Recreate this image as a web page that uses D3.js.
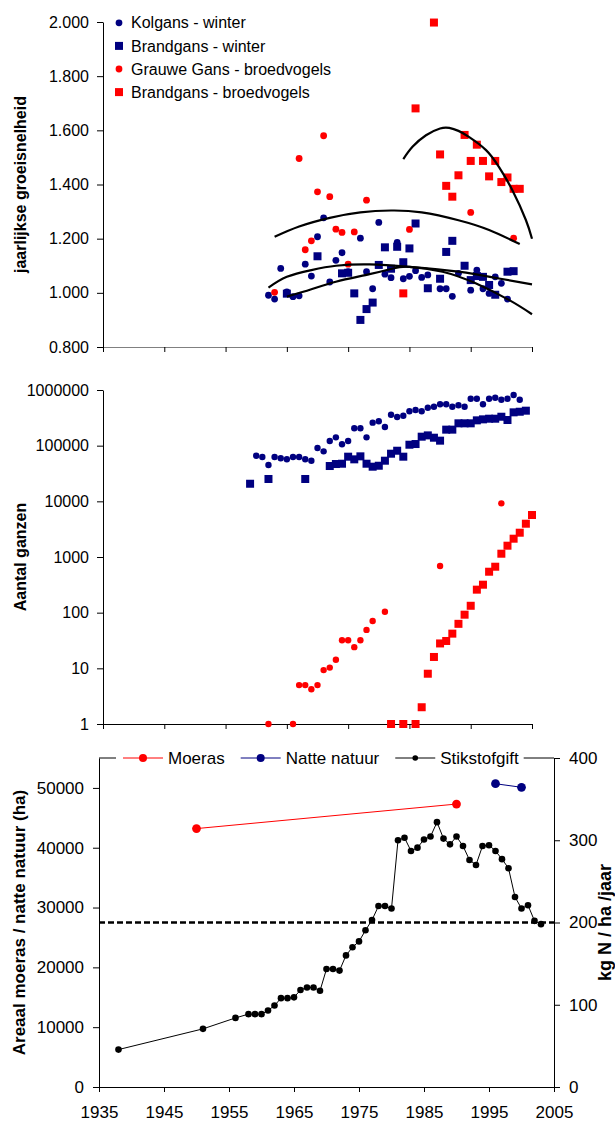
<!DOCTYPE html>
<html lang="nl">
<head>
<meta charset="utf-8">
<title>Ganzen, moeras en stikstofgift</title>
<script src="https://cdn.jsdelivr.net/npm/d3@7/dist/d3.min.js"></script>
<style>
  html, body { margin: 0; padding: 0; background: #fff; }
  svg { display: block; }
  text { font-family: Arial, "Liberation Sans", Helvetica, sans-serif; fill: #000; }
</style>
</head>
<body>
<svg id="chart" width="615" height="1121"></svg>
<script>
// ---------- data: annual growth rate (top panel) ----------
const kolgansGroei = [
  [1962,0.991],[1963,0.977],[1964,1.090],[1965,1.003],[1966,0.986],[1967,0.989],
  [1968,1.106],[1969,1.062],[1970,1.207],[1971,1.277],[1972,1.040],[1973,1.120],
  [1974,1.148],[1975,1.078],[1977,1.202],[1978,1.078],[1979,1.015],[1980,1.260],
  [1981,1.069],[1982,1.056],[1983,1.186],[1984,1.052],[1985,1.061],[1986,1.082],
  [1987,1.057],[1988,1.066],[1990,1.015],[1991,1.015],[1992,0.987],[1993,1.072],
  [1995,1.010],[1996,1.084],[1997,1.015],[1998,0.998],[1999,1.059],[2000,1.035],
  [2001,0.977]
];
const brandgansWinterGroei = [
  [1965,0.997],[1970,1.135],[1974,1.072],[1975,1.074],[1976,0.998],[1977,0.900],
  [1978,0.940],[1979,0.964],[1980,1.103],[1981,1.168],[1982,1.089],[1983,1.170],
  [1984,1.113],[1985,1.164],[1986,1.256],[1988,1.017],[1990,1.052],[1991,1.151],
  [1992,1.192],[1994,1.100],[1995,1.047],[1996,1.062],[1997,1.059],[1998,1.029],
  [1999,0.993],[2001,1.078],[2002,1.080]
];
const grauweGansGroei = [
  [1963,1.002],[1967,1.496],[1968,1.159],[1969,1.192],[1970,1.373],[1971,1.580],
  [1972,1.355],[1973,1.235],[1974,1.223],[1975,1.106],[1976,1.225],[1978,1.342],
  [1985,1.234],[1995,1.297],[2002,1.202]
];
const brandgansBroedGroei = [
  [1984,0.998],[1986,1.681],[1989,1.998],[1990,1.511],[1991,1.395],[1992,1.355],
  [1993,1.434],[1994,1.583],[1995,1.487],[1996,1.547],[1997,1.487],[1998,1.430],
  [1999,1.487],[2000,1.409],[2001,1.426],[2002,1.384],[2003,1.384]
];
// polynomial trend lines, sampled along their course
const kolgansTrend = [
  [1962,1.019],[1965,1.059],[1969,1.084],[1973,1.100],[1978.5,1.105],[1985,1.096],
  [1993,1.078],[1999.6,1.053],[2005,1.031]
];
const brandgansWinterTrend = [
  [1965,0.986],[1969,1.013],[1973,1.041],[1978.5,1.069],[1982.3,1.090],[1985,1.096],
  [1990.4,1.078],[1995.8,1.035],[2001.3,0.973],[2005,0.921]
];
const grauweGansTrend = [
  [1963,1.207],[1967,1.245],[1972,1.277],[1977,1.297],[1982,1.304],[1987,1.297],
  [1993,1.268],[1998,1.232],[2003,1.180]
];
const brandgansBroedTrend = [
  [1984,1.494],[1985.5,1.539],[1987.7,1.582],[1990,1.607],[1991.5,1.609],[1993,1.598],
  [1994.7,1.576],[1997.5,1.527],[1999.6,1.465],[2001.8,1.379],[2004,1.269],[2005,1.200]
];
const growthTicks = [0.8, 1.0, 1.2, 1.4, 1.6, 1.8, 2.0];

// ---------- data: number of geese (middle panel, log scale) ----------
const kolgansAantal = [
  [1960,66000],[1961,62500],[1962,44900],[1963,62500],[1964,59300],[1965,56900],
  [1966,62500],[1967,62500],[1968,56900],[1969,53700],[1970,90700],[1971,79100],
  [1972,121000],[1973,141000],[1974,106000],[1975,121000],[1976,205000],[1977,205000],
  [1978,141000],[1979,259000],[1980,274000],[1981,216000],[1982,360000],[1983,327000],
  [1984,345000],[1985,414000],[1986,437000],[1987,414000],[1988,481000],[1989,501000],
  [1990,553000],[1991,553000],[1992,501000],[1993,531000],[1994,501000],[1995,697000],
  [1996,697000],[1997,553000],[1998,697000],[1999,727000],[2000,670000],[2001,697000],
  [2002,813000],[2003,670000]
];
const brandgansWinterAantal = [
  [1959,20700],[1962,25200],[1968,25200],[1972,43100],[1973,46800],[1974,47400],
  [1975,63400],[1976,56800],[1977,64300],[1978,47400],[1979,41900],[1980,43600],
  [1981,53700],[1982,71700],[1983,81100],[1984,63400],[1985,104000],[1986,107000],
  [1987,145000],[1988,153000],[1989,139000],[1990,123000],[1991,194000],[1992,194000],
  [1993,252000],[1994,252000],[1995,252000],[1996,285000],[1997,297000],[1998,305000],
  [1999,305000],[2000,331000],[2001,289000],[2002,397000],[2003,407000],[2004,425000]
];
const grauweGansAantal = [
  [1962,1],[1966,1],[1967,5],[1968,5],[1969,4.2],[1970,5],[1971,9.3],[1972,10.3],
  [1973,14.3],[1974,32],[1975,32],[1976,24],[1977,32],[1978,49],[1979,71],[1981,104],
  [1990,690],[2000,9200]
];
const brandgansBroedAantal = [
  [1982,1],[1984,1],[1986,1],[1987,2],[1988,8],[1989,16],[1990,28],[1991,31],
  [1992,42],[1993,63],[1994,92],[1995,133],[1996,259],[1997,318],[1998,544],
  [1999,669],[2000,1146],[2001,1596],[2002,2132],[2003,2731],[2004,3963],[2005,5680]
];
const countTicks = [1, 10, 100, 1000, 10000, 100000, 1000000];

// ---------- data: marsh area and nitrogen application (bottom panel) ----------
const moeras = [[1950,43200],[1990,47300]];
const natteNatuur = [[1996,50700],[2000,50100]];
const stikstofgift = [
  [1938,45.5],[1951,70.7],[1956,84],[1958,88.6],[1959,88.6],[1960,88.6],[1961,93],
  [1962,99],[1963,108],[1964,108],[1965,109],[1966,118],[1967,121],[1968,121],
  [1969,117],[1970,143.5],[1971,143.5],[1972,141.5],[1973,160],[1974,170],[1975,177],
  [1976,190.5],[1977,203],[1978,220],[1979,220],[1980,217],[1981,300],[1982,303],
  [1983,287],[1984,291],[1985,301],[1986,304.5],[1987,322],[1988,302],[1989,295],
  [1990,304.5],[1991,293],[1992,276],[1993,270],[1994,293],[1995,294],[1996,287],
  [1997,277],[1998,266],[1999,231],[2000,217],[2001,221],[2002,202],[2003,198]
];
const stikstofNorm = 200;
const areaTicks = [0, 10000, 20000, 30000, 40000, 50000];
const nTicks = [0, 100, 200, 300, 400];
const yearTicks = [1935, 1945, 1955, 1965, 1975, 1985, 1995, 2005];

// ---------- colours ----------
const NAVY = "#000080", RED = "#ff0000";

const svg = d3.select("#chart");

function styleAxis(g, fontSize) {
  g.attr("font-family", null).attr("font-size", null);
  g.selectAll("text").style("font-size", fontSize + "px");
  g.selectAll("line").attr("stroke", "#000");
  g.select(".domain").attr("stroke", "#000");
  return g;
}
function drawCircles(g, data, x, y, r, color) {
  g.selectAll(null).data(data).join("circle")
    .attr("cx", d => x(d[0])).attr("cy", d => y(d[1]))
    .attr("r", r).attr("fill", color);
}
function drawSquares(g, data, x, y, s, color) {
  g.selectAll(null).data(data).join("rect")
    .attr("x", d => x(d[0]) - s / 2).attr("y", d => y(d[1]) - s / 2)
    .attr("width", s).attr("height", s).attr("fill", color);
}

// =============== top panel: jaarlijkse groeisnelheid ===============
const xTop = d3.scaleLinear().domain([1935, 2005]).range([103, 532]);
const yGrowth = d3.scaleLinear().domain([0.8, 2.0]).range([347, 22]);
const growthPanel = svg.append("g");

const growthX = growthPanel.append("g").attr("transform", `translate(0,${yGrowth(0.8)})`)
  .call(d3.axisBottom(xTop).tickValues(yearTicks).tickFormat("").tickSize(5).tickSizeOuter(0));
styleAxis(growthX, 16);
growthX.select(".domain").attr("stroke", "#808080");

styleAxis(growthPanel.append("g").attr("transform", `translate(${xTop(1935)},0)`)
  .call(d3.axisLeft(yGrowth).tickValues(growthTicks).tickFormat(d3.format(".3f"))
    .tickSize(6).tickPadding(8).tickSizeOuter(0)), 16);

growthPanel.append("text")
  .attr("transform", `translate(20,${(yGrowth.range()[0] + yGrowth.range()[1]) / 2}) rotate(-90)`)
  .attr("text-anchor", "middle").attr("dy", "0.35em")
  .style("font-size", "16px").style("font-weight", "bold")
  .text("jaarlijkse groeisnelheid");

drawCircles(growthPanel, kolgansGroei, xTop, yGrowth, 3.4, NAVY);
drawSquares(growthPanel, brandgansWinterGroei, xTop, yGrowth, 8, NAVY);
drawCircles(growthPanel, grauweGansGroei, xTop, yGrowth, 3.4, RED);
drawSquares(growthPanel, brandgansBroedGroei, xTop, yGrowth, 8, RED);

const trendLine = d3.line().x(d => xTop(d[0])).y(d => yGrowth(d[1])).curve(d3.curveNatural);
[kolgansTrend, brandgansWinterTrend, grauweGansTrend, brandgansBroedTrend].forEach(t => {
  growthPanel.append("path").attr("d", trendLine(t))
    .attr("fill", "none").attr("stroke", "#000").attr("stroke-width", 2.2);
});

// legend
const growthLegend = [
  { label: "Kolgans - winter", shape: "circle", color: NAVY },
  { label: "Brandgans - winter", shape: "square", color: NAVY },
  { label: "Grauwe Gans - broedvogels", shape: "circle", color: RED },
  { label: "Brandgans - broedvogels", shape: "square", color: RED }
];
const gl = growthPanel.append("g").attr("transform", "translate(119,22.8)");
growthLegend.forEach((e, i) => {
  const row = gl.append("g").attr("transform", `translate(0,${i * 23.1})`);
  if (e.shape === "circle") row.append("circle").attr("r", 3.4).attr("fill", e.color);
  else row.append("rect").attr("x", -4).attr("y", -4).attr("width", 8).attr("height", 8).attr("fill", e.color);
  row.append("text").attr("x", 12).attr("dy", "0.35em").style("font-size", "16px").text(e.label);
});

// =============== middle panel: aantal ganzen ===============
const yCount = d3.scaleLog().domain([1, 1e6]).range([724, 390]);
const countPanel = svg.append("g");

styleAxis(countPanel.append("g").attr("transform", `translate(0,${yCount(1)})`)
  .call(d3.axisBottom(xTop).tickValues(yearTicks).tickFormat("").tickSize(5).tickSizeOuter(0)), 16);
styleAxis(countPanel.append("g").attr("transform", `translate(${xTop(1935)},0)`)
  .call(d3.axisLeft(yCount).tickValues(countTicks).tickFormat(d3.format("d"))
    .tickSize(6).tickPadding(8).tickSizeOuter(0)), 16);

countPanel.append("text")
  .attr("transform", `translate(20,${(yCount.range()[0] + yCount.range()[1]) / 2}) rotate(-90)`)
  .attr("text-anchor", "middle").attr("dy", "0.35em")
  .style("font-size", "16px").style("font-weight", "bold")
  .text("Aantal ganzen");

drawCircles(countPanel, kolgansAantal, xTop, yCount, 3.2, NAVY);
drawSquares(countPanel, brandgansWinterAantal, xTop, yCount, 8, NAVY);
drawCircles(countPanel, grauweGansAantal, xTop, yCount, 3.2, RED);
drawSquares(countPanel, brandgansBroedAantal, xTop, yCount, 8, RED);

// =============== bottom panel: areaal moeras en stikstofgift ===============
const xBot = d3.scaleLinear().domain([1935, 2005]).range([99, 554]);
const yArea = d3.scaleLinear().domain([0, 55000]).range([1087, 758]);
const yN = d3.scaleLinear().domain([0, 400]).range([1087, 758]);
const areaPanel = svg.append("g");

// plot area top edge
areaPanel.append("line")
  .attr("x1", xBot.range()[0]).attr("x2", xBot.range()[1])
  .attr("y1", yArea.range()[1]).attr("y2", yArea.range()[1])
  .attr("stroke", "#000");

styleAxis(areaPanel.append("g").attr("transform", `translate(0,${yArea(0)})`)
  .call(d3.axisBottom(xBot).tickValues(yearTicks).tickFormat(d3.format("d"))
    .tickSize(5).tickPadding(14).tickSizeOuter(0)), 17);
styleAxis(areaPanel.append("g").attr("transform", `translate(${xBot(1935)},0)`)
  .call(d3.axisLeft(yArea).tickValues(areaTicks).tickFormat(d3.format("d"))
    .tickSize(6).tickPadding(9).tickSizeOuter(0)), 17);
styleAxis(areaPanel.append("g").attr("transform", `translate(${xBot(2005)},0)`)
  .call(d3.axisRight(yN).tickValues(nTicks).tickFormat(d3.format("d"))
    .tickSize(6).tickPadding(9).tickSizeOuter(0)), 17);

const areaMid = (yArea.range()[0] + yArea.range()[1]) / 2;
areaPanel.append("text")
  .attr("transform", `translate(19,${areaMid}) rotate(-90)`)
  .attr("text-anchor", "middle").attr("dy", "0.35em")
  .style("font-size", "17px").style("font-weight", "bold")
  .text("Areaal moeras / natte natuur (ha)");
areaPanel.append("text")
  .attr("transform", `translate(605,${areaMid}) rotate(-90)`)
  .attr("text-anchor", "middle").attr("dy", "0.35em")
  .style("font-size", "18px").style("font-weight", "bold")
  .text("kg N / ha /jaar");

// nitrogen norm
areaPanel.append("line")
  .attr("x1", xBot.range()[0]).attr("x2", xBot.range()[1])
  .attr("y1", yN(stikstofNorm)).attr("y2", yN(stikstofNorm))
  .attr("stroke", "#000").attr("stroke-width", 2.5).attr("stroke-dasharray", "6,3");

const lineArea = d3.line().x(d => xBot(d[0])).y(d => yArea(d[1]));
const lineN = d3.line().x(d => xBot(d[0])).y(d => yN(d[1]));

areaPanel.append("path").attr("d", lineN(stikstofgift)).attr("fill", "none").attr("stroke", "#000").attr("stroke-width", 1);
drawCircles(areaPanel, stikstofgift, xBot, yN, 3.3, "#000");

areaPanel.append("path").attr("d", lineArea(moeras)).attr("fill", "none").attr("stroke", RED).attr("stroke-width", 1);
drawCircles(areaPanel, moeras, xBot, yArea, 4.4, RED);
areaPanel.append("path").attr("d", lineArea(natteNatuur)).attr("fill", "none").attr("stroke", NAVY).attr("stroke-width", 1);
drawCircles(areaPanel, natteNatuur, xBot, yArea, 4.4, NAVY);

// legend (white box over the plot's top edge)
const areaLegend = [
  { label: "Moeras", color: RED, r: 4 },
  { label: "Natte natuur", color: NAVY, r: 4 },
  { label: "Stikstofgift", color: "#000", r: 2.8 }
];
const al = areaPanel.append("g").attr("transform", `translate(0,${yArea.range()[1]})`);
const alBox = al.append("rect").attr("fill", "#fff");
let lx = 123;
const legendStart = lx - 7;
areaLegend.forEach(e => {
  al.append("line").attr("x1", lx).attr("x2", lx + 40).attr("stroke", e.color).attr("stroke-width", 1);
  al.append("circle").attr("cx", lx + 20).attr("r", e.r).attr("fill", e.color);
  const t = al.append("text").attr("x", lx + 45).attr("dy", "0.35em").style("font-size", "17px").text(e.label);
  lx += 45 + t.node().getComputedTextLength() + 16;
});
alBox.attr("x", legendStart).attr("y", -11).attr("width", lx - 16 + 5 - legendStart).attr("height", 22);
</script>
</body>
</html>
